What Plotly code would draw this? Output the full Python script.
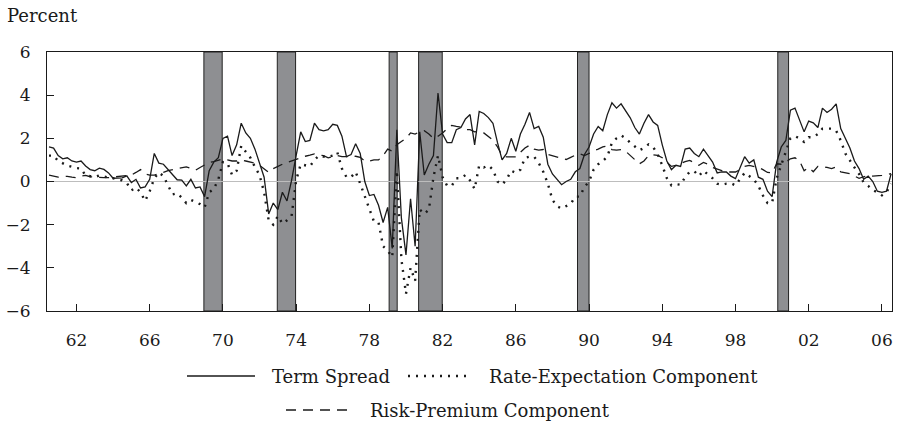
import plotly.graph_objects as go

# Quarterly observations, positioned on the chart's year axis (tick "62" = 1962.0)
start_year = 1960.5
step = 0.25

term_spread = [
    1.6, 1.55,                      # 1960
    1.2, 1.05, 1.1, 0.95,           # 1961
    0.9, 0.95, 0.72, 0.55,          # 1962
    0.5, 0.62, 0.56, 0.4,           # 1963
    0.15, 0.16, 0.17, 0.26,         # 1964
    -0.05, 0.1, -0.3, -0.25,        # 1965
    0.1, 1.3, 0.85, 0.8,            # 1966
    0.55, 0.3, 0.08, 0.06,          # 1967
    -0.2, 0.1, -0.3, -0.25,         # 1968
    -0.7, 0.5, 0.9, 1.1,            # 1969
    2.0, 2.1, 1.2, 1.7,             # 1970
    2.7, 2.25, 2.0, 1.5,            # 1971
    0.8, 0.2, -1.5, -1.0,           # 1972
    -1.3, -0.5, -0.9, 0.05,         # 1973
    1.2, 2.3, 1.85, 1.9,            # 1974
    2.7, 2.4, 2.35, 2.4,            # 1975
    2.65, 2.6, 2.1, 1.15,           # 1976
    1.25, 1.75, 1.3, 0.0,           # 1977
    -0.65, -0.6, -1.1, -1.9,        # 1978
    -1.2, -3.1, 2.4, -1.7,          # 1979
    -3.4, -0.8, -3.0, 2.3,          # 1980
    0.3, 0.8, 1.2, 4.1,             # 1981
    2.2, 1.8, 1.8, 2.4,             # 1982
    2.5, 2.9, 3.1, 1.7,             # 1983
    3.25, 3.15, 2.96, 2.7,          # 1984
    1.8, 1.0, 1.3, 2.0,             # 1985
    1.4, 2.2, 2.65, 3.2,            # 1986
    2.45, 2.55, 2.05, 0.8,          # 1987
    0.35, 0.1, -0.15, 0.0,          # 1988
    0.1, 0.45, 0.6, 1.25,           # 1989
    1.6, 2.2, 2.55, 2.35,           # 1990
    3.1, 3.65, 3.4, 3.6,            # 1991
    3.3, 2.95, 2.5, 2.2,            # 1992
    2.7, 3.1, 2.76, 2.6,            # 1993
    1.7, 0.95, 0.55, 0.75,          # 1994
    0.7, 1.5, 1.55, 1.3,            # 1995
    1.15, 1.5, 1.2, 0.9,            # 1996
    0.4, 0.45, 0.44, 0.25,          # 1997
    0.13, 0.67, 1.15, 0.85,         # 1998
    1.0, 0.2, 0.1, -0.45,           # 1999
    -0.7, 0.9, 1.6, 1.9,            # 2000
    3.3, 3.4, 2.8, 2.3,             # 2001
    2.8, 2.72, 2.5, 3.4,            # 2002
    3.2, 3.35, 3.6, 2.45,           # 2003
    2.0, 1.55, 0.95, 0.6,           # 2004
    0.1, 0.25, 0.0, -0.45,          # 2005
    -0.5, -0.45, 0.35,              # 2006
]

rate_expectation = [
    1.2, 1.2,                       # 1960
    0.95, 0.85, 0.74, 0.68,         # 1961
    0.62, 0.6, 0.27, 0.25,          # 1962
    0.21, 0.28, 0.22, 0.18,         # 1963
    0.15, 0.1, 0.05, -0.07,         # 1964
    -0.41, -0.28, -0.5, -0.9,       # 1965
    -0.45, 0.15, 0.42, 0.25,        # 1966
    -0.15, -0.6, -0.55, -0.75,      # 1967
    -1.0, -0.85, -0.95, -1.05,      # 1968
    -1.2, -0.5, -0.35, 0.1,         # 1969
    0.9, 0.85, 0.3, 0.5,            # 1970
    1.65, 1.35, 1.1, 0.67,          # 1971
    0.3, -0.5, -1.8, -2.0,          # 1972
    -1.6, -1.95, -1.8, -1.6,        # 1973
    0.05, 0.8, 0.75, 0.7,           # 1974
    1.0, 1.2, 1.15, 1.14,           # 1975
    1.2, 1.35, 0.6, 0.2,            # 1976
    0.2, 0.45, -0.1, -0.7,          # 1977
    -1.3, -1.85, -1.9, -3.0,        # 1978
    -3.2, -3.5, 0.5, -3.6,          # 1979
    -5.2, -4.0, -4.6, -1.3,         # 1980
    -1.5, -1.3, 0.2, 1.2,           # 1981
    0.2, -0.2, -0.2, 0.15,          # 1982
    0.15, 0.3, 0.05, -0.35,         # 1983
    0.75, 0.65, 0.75, 0.55,         # 1984
    0.0, -0.15, 0.1, 0.5,           # 1985
    0.4, 0.55, 1.1, 1.15,           # 1986
    1.15, 0.86, 0.45, -0.1,         # 1987
    -0.85, -1.15, -1.25, -1.15,     # 1988
    -1.03, -0.7, -0.7, -0.25,       # 1989
    0.0, 0.55, 0.8, 0.95,           # 1990
    1.15, 1.8, 2.0, 2.14,           # 1991
    2.0, 1.8, 1.62, 1.45,           # 1992
    1.55, 1.72, 1.6, 1.25,          # 1993
    0.75, 0.15, -0.18, -0.12,       # 1994
    -0.15, 0.2, 0.45, 0.48,         # 1995
    0.25, 0.5, 0.32, 0.15,          # 1996
    -0.1, -0.15, -0.1, -0.08,       # 1997
    -0.18, 0.13, 0.4, 0.25,         # 1998
    0.1, -0.2, -0.65, -1.0,         # 1999
    -1.0, 0.15, 0.8, 1.4,           # 2000
    2.0, 2.1, 2.0, 1.83,            # 2001
    2.05, 2.05, 2.2, 2.45,          # 2002
    2.45, 2.45, 2.35, 1.9,          # 2003
    1.3, 0.95, 0.65, 0.35,          # 2004
    -0.05, -0.2, -0.4, -0.5,        # 2005
    -0.64, -0.5, -0.1,              # 2006
]

risk_premium = [
    0.3, 0.25,                      # 1960
    0.2, 0.22, 0.24, 0.2,           # 1961
    0.18, 0.25, 0.28, 0.22,         # 1962
    0.2, 0.18, 0.18, 0.18,          # 1963
    0.2, 0.22, 0.24, 0.28,          # 1964
    0.3, 0.42, 0.55, 0.35,          # 1965
    0.3, 0.3, 0.35, 0.42,           # 1966
    0.5, 0.55, 0.58, 0.62,          # 1967
    0.68, 0.6, 0.52, 0.65,          # 1968
    0.75, 0.88, 0.92, 0.98,         # 1969
    1.05, 1.0, 0.95, 0.95,          # 1970
    1.0, 0.95, 0.9, 0.85,           # 1971
    0.75, 0.6, 0.42, 0.6,           # 1972
    0.72, 0.8, 0.88, 0.95,          # 1973
    1.05, 1.12, 1.17, 1.22,         # 1974
    1.28, 1.22, 1.2, 1.1,           # 1975
    1.15, 1.2, 1.15, 1.14,          # 1976
    1.15, 1.17, 1.12, 0.95,         # 1977
    0.95, 1.0, 1.0, 1.2,            # 1978
    1.5, 1.4, 1.7, 1.85,            # 1979
    2.0, 2.25, 2.2, 2.3,            # 1980
    2.35, 2.2, 2.0, 2.1,            # 1981
    2.25, 2.45, 2.6, 2.55,          # 1982
    2.52, 2.4, 2.4, 2.3,            # 1983
    2.32, 2.25, 2.1, 1.92,          # 1984
    1.6, 1.2, 1.14, 1.14,           # 1985
    1.14, 1.35, 1.55, 1.68,         # 1986
    1.5, 1.45, 1.48, 1.25,          # 1987
    1.2, 1.15, 1.08, 1.02,          # 1988
    1.12, 1.22, 1.28, 1.2,          # 1989
    1.3, 1.42, 1.5, 1.6,            # 1990
    1.65, 1.48, 1.45, 1.48,         # 1991
    1.4, 1.2, 1.0, 0.82,            # 1992
    0.95, 1.2, 1.24, 1.21,          # 1993
    1.1, 0.9, 0.7, 0.75,            # 1994
    0.85, 0.92, 0.98, 0.85,         # 1995
    0.75, 0.88, 0.8, 0.65,          # 1996
    0.56, 0.5, 0.44, 0.44,          # 1997
    0.44, 0.55, 0.7, 0.75,          # 1998
    0.7, 0.65, 0.55, 0.42,          # 1999
    0.4, 0.82, 0.8, 0.9,            # 2000
    1.05, 1.1, 0.95, 0.5,           # 2001
    0.65, 0.45, 0.7, 0.68,          # 2002
    0.65, 0.6, 0.67, 0.45,          # 2003
    0.4, 0.36, 0.25, 0.15,          # 2004
    0.22, 0.28, 0.25, 0.25,         # 2005
    0.28, 0.32, 0.36,               # 2006
]

# Shaded periods (start, end) on the chart's year axis
recession_start = [1968.96, 1972.97, 1979.08, 1980.69, 1989.37, 2000.31]
recession_end = [1969.96, 1973.97, 1979.52, 1981.98, 1990.0, 2000.9]

tick_years = [1962, 1966, 1970, 1974, 1978, 1982, 1986, 1990, 1994, 1998, 2002, 2006]
tick_labels = ["62", "66", "70", "74", "78", "82", "86", "90", "94", "98", "02", "06"]
y_ticks = [-6, -4, -2, 0, 2, 4, 6]

series_names = ["Term Spread", "Rate-Expectation Component", "Risk-Premium Component"]

assert len(term_spread) == len(rate_expectation) == len(risk_premium)
n = len(term_spread)
x_years = [start_year + step * i for i in range(n)]

FONT = "DejaVu Serif"
W, H = 897, 426
ML, MR, MT, MB = 47, 5, 52, 115

fig = go.Figure()

dash_styles = {"solid": "solid", "dot": "2px,6px", "dash": "10px,7px"}
widths = {"solid": 1.3, "dot": 2.4, "dash": 1.3}

fig.add_trace(go.Scatter(x=x_years, y=risk_premium, mode="lines", name=series_names[2],
                         line=dict(color="#1a1a1a", width=widths["dash"], dash=dash_styles["dash"]),
                         showlegend=False))
fig.add_trace(go.Scatter(x=x_years, y=rate_expectation, mode="lines", name=series_names[1],
                         line=dict(color="#1a1a1a", width=widths["dot"], dash=dash_styles["dot"]),
                         showlegend=False))
fig.add_trace(go.Scatter(x=x_years, y=term_spread, mode="lines", name=series_names[0],
                         line=dict(color="#1a1a1a", width=widths["solid"]),
                         showlegend=False))

shapes = []
for s, e in zip(recession_start, recession_end):
    shapes.append(dict(type="rect", xref="x", yref="paper", x0=s, x1=e, y0=0, y1=1,
                       fillcolor="#8e8f92", line=dict(color="#222222", width=1), layer="between"))

# manual legend (pixel layout converted to paper coordinates)
pw = W - ML - MR
ph = H - MT - MB
def px(x):
    return (x - ML) / pw
def py(y):
    return (H - MB - y) / ph

legend_rows = [
    (376, 187, 255, "solid", series_names[0], 270),
    (376, 408, 468, "dot", series_names[1], 487),
    (410, 286, 351, "dash", series_names[2], 368),
]
annotations = []
for yy, x0, x1, style, label, tx in legend_rows:
    shapes.append(dict(type="line", xref="paper", yref="paper", x0=px(x0), x1=px(x1),
                       y0=py(yy), y1=py(yy),
                       line=dict(color="#1a1a1a", width=widths[style], dash=dash_styles[style])))
    annotations.append(dict(text=label, xref="paper", yref="paper", x=px(tx), y=py(yy),
                            xanchor="left", yanchor="middle", showarrow=False,
                            font=dict(family=FONT, size=18, color="#1a1a1a")))

annotations.append(dict(text="Percent", xref="paper", yref="paper", x=px(5), y=py(15),
                        xanchor="left", yanchor="middle", showarrow=False,
                        font=dict(family=FONT, size=18, color="#1a1a1a")))

fig.update_layout(
    width=W, height=H,
    margin=dict(l=ML, r=MR, t=MT, b=MB),
    paper_bgcolor="white", plot_bgcolor="white",
    font=dict(family=FONT, size=17, color="#1a1a1a"),
    shapes=shapes, annotations=annotations,
    showlegend=False,
)
fig.update_xaxes(range=[1960.39, 2006.55], tickvals=tick_years, ticktext=tick_labels,
                 ticks="inside", ticklen=7, tickcolor="#1a1a1a", tickwidth=1,
                 showline=True, linecolor="#1a1a1a", linewidth=1, mirror=True,
                 showgrid=False, zeroline=False, ticklabelstandoff=14)
fig.update_yaxes(range=[-6, 6], tickvals=y_ticks, ticks="inside", ticklen=7,
                 tickcolor="#1a1a1a", tickwidth=1,
                 showline=True, linecolor="#1a1a1a", linewidth=1, mirror=True,
                 showgrid=False, zeroline=True, zerolinecolor="#bdbdbd", zerolinewidth=1,
                 ticklabelstandoff=12)

fig.write_html("out.html")
